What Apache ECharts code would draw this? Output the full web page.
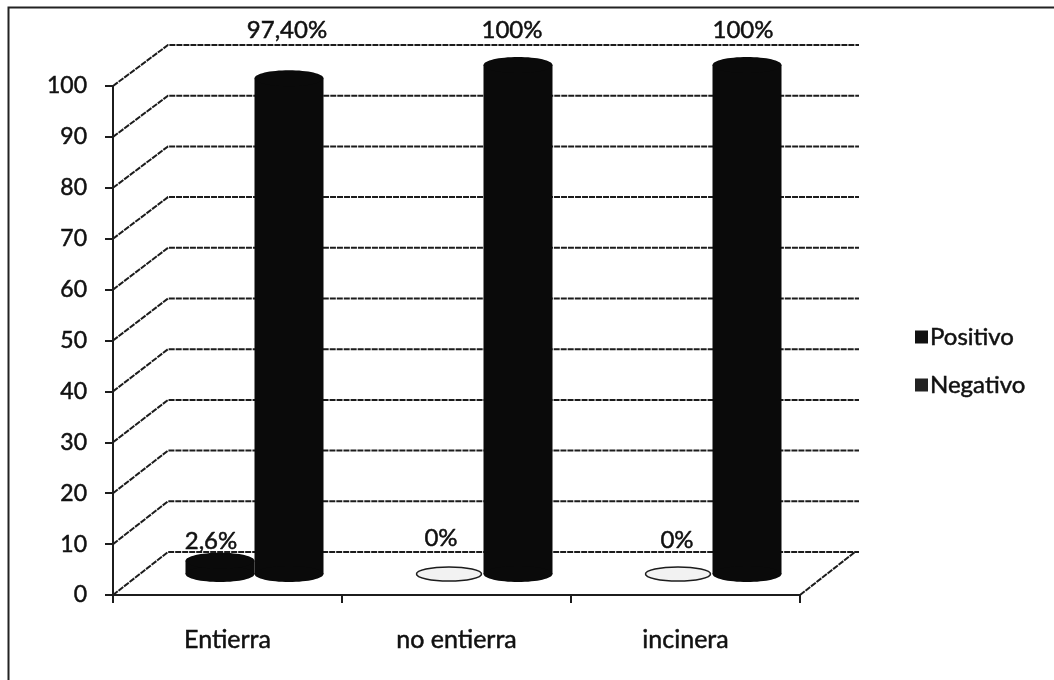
<!DOCTYPE html>
<html>
<head>
<meta charset="utf-8">
<style>html,body{margin:0;padding:0;background:#fff}#chart{width:1054px;height:680px}</style>
<script src="https://cdn.jsdelivr.net/npm/echarts@6/dist/echarts.min.js"></script>
</head>
<body>
<div id="chart"></div>
<script>
// Resultados por destino de los restos
const categories = ['Entierra', 'no entierra', 'incinera'];
const positivo = [2.6, 0, 0];
const negativo = [97.4, 100, 100];
const positivoLabels = ['2,6%', '0%', '0%'];
const negativoLabels = ['97,40%', '100%', '100%'];
const yTicks = [0, 10, 20, 30, 40, 50, 60, 70, 80, 90, 100];

// Pseudo-3D geometry: depth of the floor and size of each cylinder, in pixels
const DEPTH_X = 55, DEPTH_Y = 43, DEPTH_Y_TOP = 41, WALL_EXTRA = 4;
const MID_X = 27, MID_Y = 21;
const BAR_RX = 34.5, BAR_RY = 8;
const INK = '#0a0a0a';
const LINE = '#1c1c1c';
const FONT = 'Lato';
const TEXT_INK = '#111';

// Offsets of the value labels from the top of their cylinder
const posLabelShift = [[-9, -20], [-8, -36], [-1, -34]];
const negLabelShift = [[-2, -48], [-6, -35], [-4, -35]];

function ellipse(cx, cy, fill, stroke) {
  return {
    type: 'ellipse',
    shape: { cx: cx, cy: cy, rx: BAR_RX - 2, ry: BAR_RY - 1 },
    style: { fill: fill, stroke: stroke, lineWidth: 1.5 }
  };
}

function cylinder(side, labels, shifts) {
  return function (params, api) {
    const i = api.value(0);
    const v = api.value(1);
    const base = api.coord([i, 0]);
    const top = api.coord([i, v]);
    const cx = base[0] + MID_X + side * BAR_RX;
    const y0 = base[1] - MID_Y;
    const y1 = top[1] - MID_Y;
    const children = [];
    if (v > 0) {
      children.push({
        type: 'rect',
        shape: { x: cx - BAR_RX, y: y1, width: BAR_RX * 2, height: y0 - y1 },
        style: { fill: INK }
      });
      children.push({
        type: 'ellipse',
        shape: { cx: cx, cy: y0, rx: BAR_RX, ry: BAR_RY },
        style: { fill: INK }
      });
      children.push({
        type: 'ellipse',
        shape: { cx: cx, cy: y1, rx: BAR_RX, ry: BAR_RY },
        style: { fill: INK }
      });
    } else {
      children.push(ellipse(cx, y0, '#f2f2f2', LINE));
    }
    children.push({
      type: 'text',
      style: {
        text: labels[i],
        x: cx + shifts[i][0],
        y: y1 + shifts[i][1],
        fill: TEXT_INK,
        stroke: TEXT_INK,
        lineWidth: 0.5,
        font: '400 24px ' + FONT,
        textAlign: 'center',
        textVerticalAlign: 'middle'
      }
    });
    return { type: 'group', children: children };
  };
}

// Back wall and floor edges, drawn from the value axis
function wall(params, api) {
  const t = api.value(0);
  const y = api.coord([0, t])[1];
  const r = params.coordSys;
  const rise = DEPTH_Y + (DEPTH_Y_TOP - DEPTH_Y) * t / 100;
  const dash = { stroke: LINE, lineWidth: 2, lineDash: [6, 1] };
  const children = [{
    type: 'polyline',
    shape: { points: [[r.x, y], [r.x + DEPTH_X, y - rise], [r.x + r.width + DEPTH_X + WALL_EXTRA, y - rise]] },
    style: Object.assign({ fill: null }, dash)
  }];
  if (t === 0) {
    children.push({
      type: 'line',
      shape: { x1: r.x + r.width, y1: y, x2: r.x + r.width + DEPTH_X, y2: y - rise },
      style: dash
    });
  }
  return { type: 'group', children: children };
}

const chart = echarts.init(document.getElementById('chart'), null, { renderer: 'canvas' });
chart.setOption({
  animation: false,
  backgroundColor: '#fff',
  textStyle: { fontFamily: FONT },
  grid: { left: 113, top: 86, width: 687, height: 509, containLabel: false },
  xAxis: {
    type: 'category',
    data: categories,
    axisLine: { lineStyle: { color: LINE, width: 2 } },
    axisTick: { show: true, alignWithLabel: false, length: 8, lineStyle: { color: LINE, width: 2 } },
    axisLabel: {
      color: TEXT_INK, fontSize: 25, margin: 32, fontFamily: FONT,
      textBorderColor: TEXT_INK, textBorderWidth: 0.5
    },
    splitLine: { show: false }
  },
  yAxis: {
    type: 'value',
    min: 0,
    max: 100,
    interval: 10,
    axisLine: { show: true, lineStyle: { color: LINE, width: 2 } },
    axisTick: { show: true, length: 8, lineStyle: { color: LINE, width: 2 } },
    axisLabel: {
      color: TEXT_INK, fontSize: 23, margin: 26, fontFamily: FONT,
      textBorderColor: TEXT_INK, textBorderWidth: 0.5
    },
    splitLine: { show: false }
  },
  legend: {
    data: ['Positivo', 'Negativo'],
    orient: 'vertical',
    left: 910,
    top: 319,
    itemWidth: 13,
    itemHeight: 13,
    itemGap: 22,
    icon: 'rect',
    textStyle: {
      color: TEXT_INK, fontSize: 24, lineHeight: 26, fontFamily: FONT,
      textBorderColor: TEXT_INK, textBorderWidth: 0.5, padding: [0, 0, 0, -3]
    }
  },
  graphic: [
    {
      type: 'polyline',
      silent: true,
      shape: { points: [[8.5, 680], [8.5, 7.5], [1054, 7.5]] },
      style: { fill: null, stroke: '#222', lineWidth: 2 }
    }
  ],
  series: [
    {
      name: 'Pared',
      type: 'custom',
      data: yTicks.map(function (t) { return [t]; }),
      renderItem: wall,
      encode: { y: 0 },
      z: 1,
      clip: false,
      silent: true
    },
    {
      name: 'Positivo',
      type: 'custom',
      data: positivo.map(function (v, i) { return [i, v]; }),
      renderItem: cylinder(-1, positivoLabels, posLabelShift),
      encode: { x: 0, y: 1 },
      itemStyle: { color: '#111' },
      z: 2,
      clip: false
    },
    {
      name: 'Negativo',
      type: 'custom',
      data: negativo.map(function (v, i) { return [i, v]; }),
      renderItem: cylinder(1, negativoLabels, negLabelShift),
      encode: { x: 0, y: 1 },
      itemStyle: { color: '#222' },
      z: 3,
      clip: false
    }
  ]
});
</script>
</body>
</html>
